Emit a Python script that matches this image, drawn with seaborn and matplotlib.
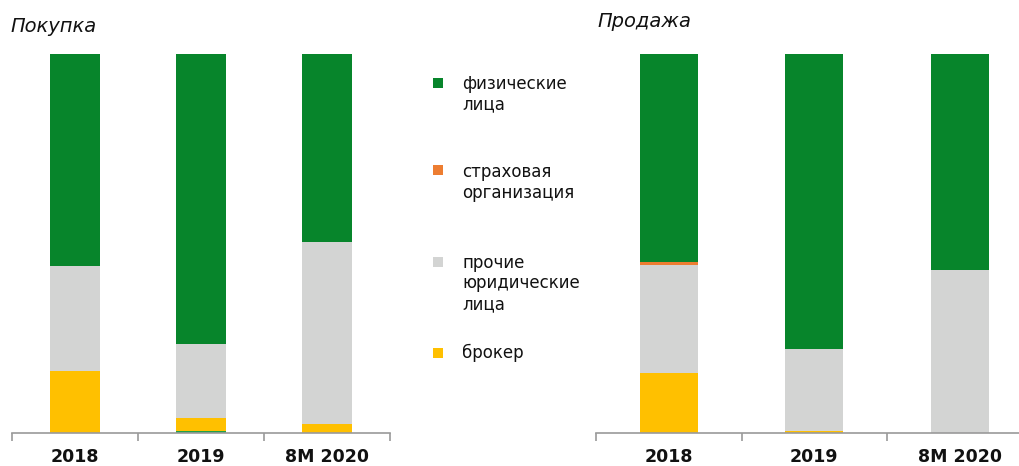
import matplotlib
matplotlib.use("Agg")
import matplotlib.pyplot as plt
from matplotlib.patches import Rectangle
import seaborn as sns
import pandas as pd
import numpy as np

# ---- data (percent shares) ----
periods = ["2018", "2019", "8M 2020"]
series_names = ["физические\nлица", "страховая\nорганизация", "прочие\nюридические\nлица", "брокер"]
colors = ["#07852b", "#ed7d31", "#d3d4d3", "#ffc000"]

buy_individuals = [55.9, 76.6, 49.6]
buy_insurance = [0.0, 0.0, 0.0]
buy_other_legal = [27.7, 19.5, 48.0]
buy_broker = [16.4, 3.4, 2.4]
buy_individuals_bottom = [0.0, 0.5, 0.0]

sell_individuals = [54.9, 77.8, 57.0]
sell_insurance = [0.8, 0.0, 0.0]
sell_other_legal = [28.5, 21.6, 43.0]
sell_broker = [15.8, 0.6, 0.0]
sell_individuals_bottom = [0.0, 0.0, 0.0]

titles = ["Покупка", "Продажа"]

sns.set_theme(style="white")
plt.rcParams["font.family"] = ["DejaVu Sans"]

W, H = 1019, 466
fig = plt.figure(figsize=(W / 100, H / 100), dpi=100)
fig.patch.set_facecolor("white")


def px_axes(x0, x1, y_top, y_bot):
    return fig.add_axes([x0 / W, (H - y_bot) / H, (x1 - x0) / W, (y_bot - y_top) / H])


def draw(ax, bottom_green, broker, other, insurance, individuals, xmax):
    # stacked via cumulative overlays (drawn from tallest to shortest)
    layers_bottom_up = [
        (bottom_green, "#22a045"),
        (broker, colors[3]),
        (other, colors[2]),
        (insurance, colors[1]),
        (individuals, colors[0]),
    ]
    cum = np.cumsum([np.array(v, dtype=float) for v, _ in layers_bottom_up], axis=0)
    for i in range(len(layers_bottom_up) - 1, -1, -1):
        df = pd.DataFrame({"period": periods, "value": cum[i]})
        sns.barplot(data=df, x="period", y="value", color=layers_bottom_up[i][1], width=0.4,
                    saturation=1, ax=ax, errorbar=None, edgecolor="none", linewidth=0)
    ax.set_facecolor("none")
    for s in ["top", "right", "left"]:
        ax.spines[s].set_visible(False)
    ax.spines["bottom"].set_color("#9a9a9a")
    ax.spines["bottom"].set_linewidth(1.2)
    ax.set_yticks([])
    ax.set_xlabel("")
    ax.set_ylabel("")
    ax.set_xticks(range(len(periods)))
    ax.set_xticklabels(periods, fontsize=12.5, fontweight="bold", color="#111111")
    ax.set_xticks([-0.5, 0.5, 1.5, 2.5], minor=True)
    ax.tick_params(axis="x", which="major", bottom=True, length=0, pad=11)
    ax.tick_params(axis="x", which="minor", bottom=True, length=6, width=1.2,
                   color="#9a9a9a", direction="out")
    ax.set_ylim(0, 100)
    ax.set_xlim(-0.5, xmax)


ax1 = px_axes(12, 390, 54, 433)
draw(ax1, buy_individuals_bottom, buy_broker, buy_other_legal, buy_insurance, buy_individuals, 2.5)

ax2 = px_axes(596, 1019, 54, 433)
draw(ax2, sell_individuals_bottom, sell_broker, sell_other_legal, sell_insurance, sell_individuals,
     -0.5 + (1019 - 596) / 145.5)

fig.text(10 / W, 1 - 32 / H, titles[0], fontsize=14, style="italic", color="#111111", va="baseline")
fig.text(597 / W, 1 - 27 / H, titles[1], fontsize=14, style="italic", color="#111111", va="baseline")

# legend
line_h = 20.5
legend_rows = [(0, 89, 78), (1, 177, 165), (2, 268, 257), (3, 358, 348)]
for idx, base_y, sq_top in legend_rows:
    fig.patches.append(Rectangle((433 / W, 1 - (sq_top + 10) / H), 10 / W, 10 / H,
                                 transform=fig.transFigure, facecolor=colors[idx], edgecolor="none"))
    for j, line in enumerate(series_names[idx].split("\n")):
        fig.text(462 / W, 1 - (base_y + j * line_h) / H, line, fontsize=12, color="#111111",
                 va="baseline", ha="left")

fig.savefig("out.png", dpi=100)
